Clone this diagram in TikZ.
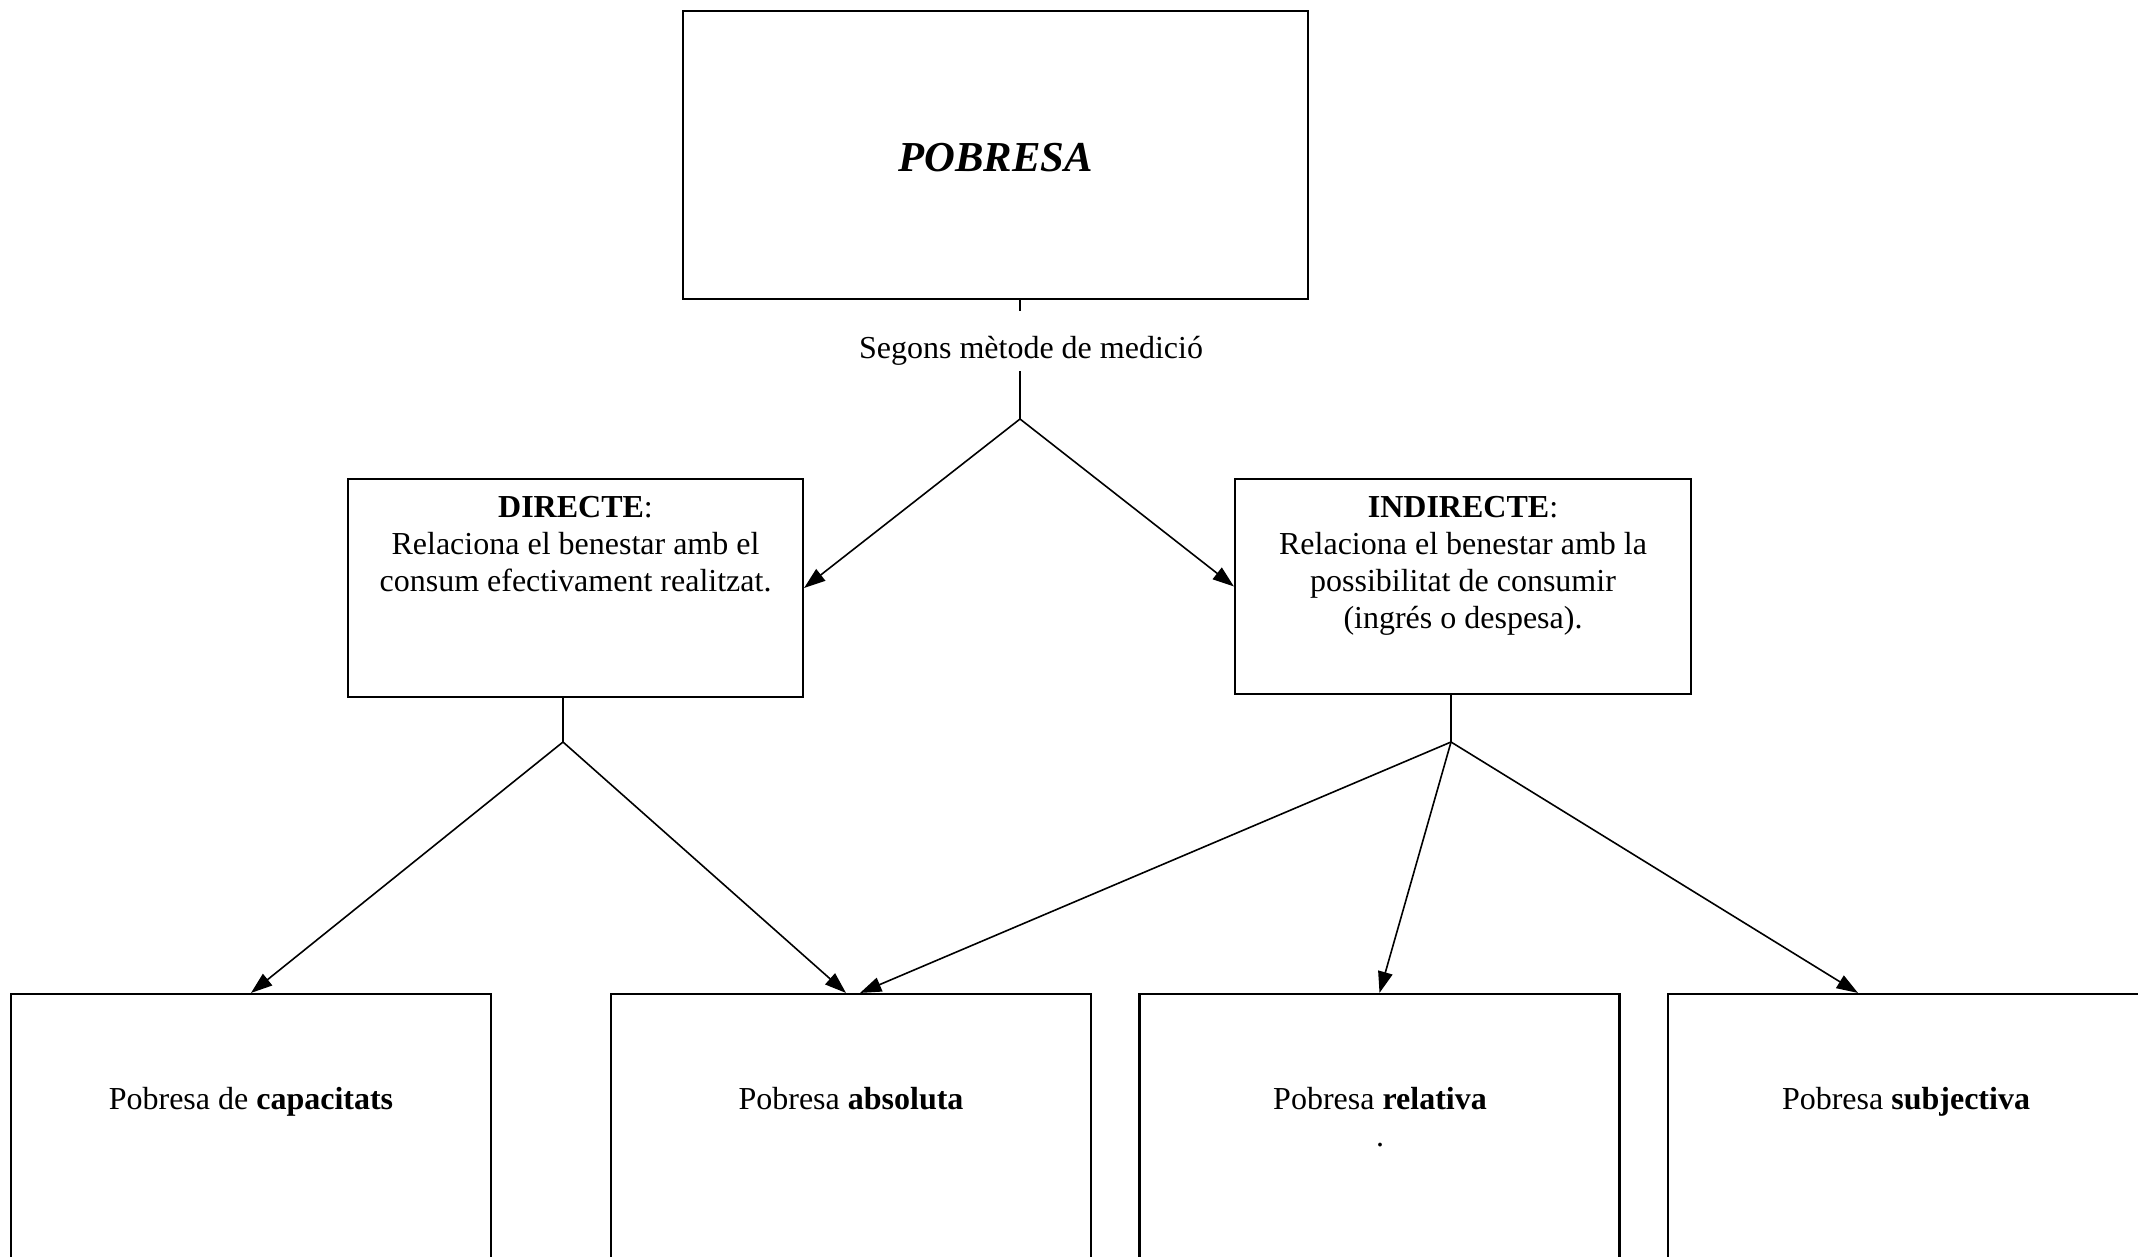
\documentclass[tikz,border=0pt]{standalone}
\usepackage{fontspec}
\setmainfont{Liberation Serif}
\usetikzlibrary{arrows.meta,calc}
\tikzset{
  boxnode/.style={draw, line width=0.8pt, inner sep=0pt},
  txt/.style={inner sep=0pt, align=center, font=\fontsize{12}{13.8}\selectfont},
  conn/.style={line width=0.6pt},
  arr/.style={line width=0.6pt, -{Triangle[length=8pt,width=5.5pt]}}
}
\begin{document}
\begin{tikzpicture}[x=0.375pt, y=-0.375pt]
\useasboundingbox (0,0) rectangle (2138,1256);
\clip (0,0) rectangle (2138,1256);
\fill[white] (0,0) rectangle (2138,1256);
% top box
\node[boxnode, minimum width=234.4pt, minimum height=108pt] (pob) at (995.5,155) {};
\node[txt, font=\fontsize{16}{18}\selectfont\bfseries\itshape] (pobt) at (995.5,158) {POBRESA};
% label
\node[txt] (lab) at (1031,351) {Segons mètode de medició};
\coordinate (j0) at (1020,419);
\coordinate (a0) at (1020,311);
\coordinate (a1) at (1020,371);
% middle boxes
\node[boxnode, minimum width=170.6pt, minimum height=81.75pt] (dir) at (575.5,588) {};
\node[txt, anchor=north] (dirt) at (575.5,496) {\textbf{DIRECTE}:\\Relaciona el benestar amb el\\consum efectivament realitzat.};
\node[boxnode, minimum width=171pt, minimum height=80.6pt] (ind) at (1463,586.5) {};
\node[txt, anchor=north] (indt) at (1463,496) {\textbf{INDIRECTE}:\\Relaciona el benestar amb la\\possibilitat de consumir\\(ingrés o despesa).};
\coordinate (j1) at (563,742);
\coordinate (j2) at (1451,742);
% bottom boxes
\node[boxnode, minimum width=180pt, minimum height=114.75pt] (b1) at (251,1147) {};
\node[boxnode, minimum width=180pt, minimum height=114.75pt] (b2) at (851,1147) {};
\node[boxnode, minimum width=180pt, minimum height=114.75pt] (b3) at (1379.5,1147) {};
\node[boxnode, minimum width=180pt, minimum height=114.75pt] (b4) at (1908,1147) {};
\node[txt, anchor=north] (b1t) at (251,1087) {Pobresa de \textbf{capacitats}};
\node[txt, anchor=north] (b2t) at (851,1087) {Pobresa \textbf{absoluta}};
\node[txt, anchor=north] (b3t) at (1380,1087) {Pobresa \textbf{relativa}\\.};
\node[txt, anchor=north] (b4t) at (1906,1087) {Pobresa \textbf{subjectiva}};
% connectors
\draw[conn] (pob.south -| j0) -- (a0);
\draw[conn] (a1) -- (j0);
\draw[arr] (j0) -- (dir.east);
\draw[arr] (j0) -- (ind.west);
\draw[conn] (dir.south -| j1) -- (j1);
\draw[conn] (ind.south -| j2) -- (j2);
\draw[arr] (j1) -- (b1.north);
\draw[arr] (j1) -- ($(b2.north)+(-5,0)$);
\draw[arr] (j2) -- ($(b2.north)+(9,0)$);
\draw[arr] (j2) -- (b3.north);
\draw[arr] (j2) -- ($(b4.north)+(-50,0)$);
\end{tikzpicture}
\end{document}
